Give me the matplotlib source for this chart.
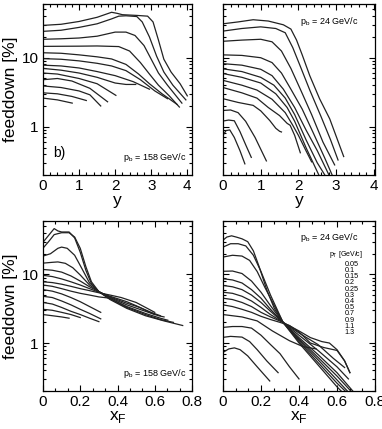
import matplotlib
matplotlib.use("Agg")
import matplotlib.pyplot as plt
from matplotlib.ticker import AutoMinorLocator, FixedLocator, NullFormatter, FuncFormatter, LogLocator

plt.rcParams['font.family'] = ['Liberation Sans', 'DejaVu Sans']

pt_labels = ["0.05", "0.1", "0.15", "0.2", "0.25", "0.3", "0.4", "0.5", "0.7", "0.9", "1.1", "1.3"]

# feeddown vs rapidity y, p_b = 158 GeV/c  (each curve: list of (y, feeddown %))
y_158 = [
    [(0, 29.4), (0.5, 30.5), (1.0, 33.5), (1.5, 38.5), (1.9, 45.5), (2.05, 44), (2.2, 42), (2.6, 41), (2.9, 40),
     (3.05, 33), (3.2, 18), (3.35, 9.5), (3.55, 6.2), (3.8, 4.2), (4.0, 2.8)],
    [(0, 24.1), (0.5, 25), (1.0, 27.5), (1.5, 31), (1.9, 36.5), (2.1, 40), (2.3, 40.5), (2.6, 39.5), (2.75, 33),
     (2.95, 20), (3.15, 10.5), (3.35, 6.2), (3.6, 4.0), (3.96, 2.45)],
    [(0, 18.5), (0.5, 18.8), (1.0, 19.3), (1.5, 20.5), (2.0, 23.5), (2.3, 23.5), (2.55, 21), (2.8, 15), (3.0, 9.5),
     (3.2, 6.0), (3.45, 4.0), (3.85, 2.2)],
    [(0, 14.6), (1.0, 14.7), (1.5, 14.8), (2.1, 14.5), (2.4, 12.5), (2.7, 8.5), (2.95, 5.8), (3.2, 4.0), (3.5, 2.8),
     (3.78, 1.93)],
    [(0, 11.8), (0.5, 11.6), (1.0, 11.0), (1.5, 10.3), (1.9, 9.6), (2.3, 8.0), (2.65, 5.8), (2.95, 4.2), (3.3, 3.0),
     (3.72, 2.1)],
    [(0, 9.7), (0.5, 9.5), (1.0, 9.0), (1.5, 8.3), (1.9, 7.6), (2.3, 6.5), (2.7, 4.8), (3.1, 3.3), (3.45, 2.55)],
    [(0, 7.8), (0.5, 7.6), (1.0, 7.1), (1.5, 6.3), (2.0, 5.5), (2.5, 4.5), (2.95, 3.5)],
    [(0, 7.0), (0.5, 6.6), (1.0, 6.0), (1.5, 5.2), (2.0, 4.3), (2.3, 4.1), (2.57, 4.1)],
    [(0, 6.0), (0.4, 5.8), (1.0, 5.0), (1.5, 4.2), (2.02, 2.85)],
    [(0, 4.8), (0.4, 5.0), (0.8, 4.6), (1.3, 3.6), (1.79, 2.3)],
    [(0, 3.9), (0.5, 3.7), (1.0, 3.3), (1.3, 2.9), (1.6, 2.0)],
    [(0, 3.1), (0.4, 3.0), (0.8, 2.75), (1.2, 2.4)],
    [(0, 2.6), (0.4, 2.45), (0.81, 2.2)],
]

# feeddown vs rapidity y, p_b = 24 GeV/c
y_24 = [
    [(0, 31), (0.4, 33), (0.8, 35.5), (1.2, 34), (1.6, 30), (1.8, 26), (1.95, 18), (2.1, 11), (2.3, 5.5),
     (2.56, 2.55), (2.83, 1.3), (3.2, 0.37)],
    [(0, 24.3), (0.5, 26.5), (1.0, 28), (1.4, 26.5), (1.65, 23), (1.85, 14), (2.05, 7.5), (2.3, 3.4), (2.6, 1.4),
     (2.85, 0.65), (3.05, 0.33)],
    [(0, 17.3), (0.5, 18), (1.0, 18.5), (1.3, 17), (1.55, 12.5), (1.8, 7), (2.05, 3.5), (2.35, 1.5), (2.65, 0.6),
     (2.96, 0.28)],
    [(0, 11), (0.5, 10.8), (1.0, 10), (1.3, 8.5), (1.55, 6), (1.8, 3.5), (2.1, 1.8), (2.4, 0.8), (2.7, 0.35),
     (2.95, 0.17)],
    [(0, 8.2), (0.5, 7.8), (1.0, 6.8), (1.3, 5.5), (1.6, 3.5), (1.9, 1.9), (2.2, 0.9), (2.5, 0.45), (2.85, 0.18)],
    [(0, 6.9), (0.5, 6.3), (1.0, 5.2), (1.35, 4.0), (1.65, 2.6), (1.9, 1.5), (2.2, 0.65), (2.5, 0.3), (2.78, 0.17)],
    [(0, 5.9), (0.5, 5.2), (1.0, 4.3), (1.4, 3.0), (1.7, 1.9), (1.9, 1.2), (2.2, 0.5), (2.58, 0.18)],
    [(0, 4.7), (0.5, 4.0), (0.9, 3.4), (1.3, 2.5), (1.65, 1.6), (1.85, 1.05), (2.0, 0.75), (2.2, 0.45), (2.35, 0.31)],
    [(0, 3.7), (0.5, 3.1), (0.9, 2.6), (1.2, 1.9), (1.5, 1.45), (1.7, 1.12), (1.78, 1.05), (1.9, 0.75), (2.05, 0.42)],
    [(0, 2.55), (0.4, 2.25), (0.8, 2.04), (1.0, 1.7), (1.24, 1.23), (1.4, 0.95), (1.5, 0.86), (1.55, 0.84)],
    [(0, 1.72), (0.2, 1.75), (0.4, 1.6), (0.6, 1.2), (0.85, 0.7), (1.15, 0.32)],
    [(0, 1.21), (0.15, 1.25), (0.3, 1.22), (0.45, 0.85), (0.6, 0.55), (0.75, 0.36)],
    [(0, 0.75), (0.08, 0.88), (0.18, 0.9), (0.3, 0.7), (0.45, 0.45), (0.58, 0.29)],
]

# feeddown vs x_F, p_b = 158 GeV/c
xf_158 = [
    [(0, 29.4), (0.03, 37), (0.06, 46.5), (0.08, 43), (0.1, 41.5), (0.14, 41.5), (0.17, 34), (0.2, 21), (0.23, 11.5),
     (0.26, 7.3), (0.3, 5.6), (0.36, 4.3), (0.45, 3.2), (0.55, 2.5), (0.65, 2.1), (0.75, 1.8)],
    [(0, 24.1), (0.03, 30), (0.06, 38), (0.1, 40.5), (0.14, 40.5), (0.17, 35), (0.2, 24), (0.23, 13), (0.26, 7.8),
     (0.3, 5.6), (0.36, 4.4), (0.45, 3.3), (0.55, 2.6), (0.63, 2.2), (0.7, 2.0)],
    [(0, 18.5), (0.04, 20), (0.08, 24), (0.1, 25), (0.13, 24), (0.17, 19), (0.21, 12), (0.25, 7.5), (0.3, 5.6),
     (0.36, 4.5), (0.45, 3.4), (0.55, 2.7), (0.63, 2.3), (0.67, 2.15)],
    [(0, 14.6), (0.05, 15), (0.08, 15.2), (0.12, 14.5), (0.16, 12.5), (0.2, 9.8), (0.25, 7.0), (0.3, 5.6),
     (0.36, 4.6), (0.45, 3.6), (0.55, 2.9), (0.62, 2.5), (0.65, 2.4)],
    [(0, 11.8), (0.05, 11.5), (0.1, 10.8), (0.15, 9.5), (0.2, 8.0), (0.25, 6.6), (0.3, 5.6), (0.36, 4.7),
     (0.45, 3.8), (0.52, 3.3), (0.58, 2.8), (0.63, 2.5)],
    [(0, 9.7), (0.05, 9.3), (0.1, 8.6), (0.15, 7.8), (0.2, 7.0), (0.25, 6.2), (0.3, 5.5), (0.36, 4.8), (0.45, 4.0),
     (0.5, 3.5), (0.55, 3.0), (0.6, 2.6)],
    [(0, 7.8), (0.05, 7.6), (0.1, 7.2), (0.15, 6.7), (0.2, 6.2), (0.25, 5.8), (0.3, 5.4), (0.36, 5.0), (0.42, 4.6),
     (0.5, 3.9), (0.56, 3.2), (0.6, 2.8)],
    [(0, 7.0), (0.05, 6.7), (0.1, 6.2), (0.15, 5.7), (0.2, 5.3), (0.25, 5.0), (0.3, 4.7), (0.36, 4.5)],
    [(0, 6.0), (0.05, 5.7), (0.1, 5.2), (0.15, 4.6), (0.2, 4.0), (0.25, 3.4), (0.31, 2.8)],
    [(0, 4.8), (0.05, 4.6), (0.1, 4.1), (0.15, 3.6), (0.2, 3.1), (0.25, 2.7), (0.31, 2.25)],
    [(0, 3.9), (0.05, 3.7), (0.1, 3.3), (0.15, 2.9), (0.2, 2.6), (0.25, 2.3), (0.3, 2.05)],
    [(0, 3.1), (0.05, 3.0), (0.1, 2.8), (0.15, 2.6), (0.2, 2.35)],
    [(0, 2.6), (0.05, 2.5), (0.1, 2.4), (0.14, 2.3)],
]

# feeddown vs x_F, p_b = 24 GeV/c
xf_24 = [
    [(0, 31.5), (0.02, 35), (0.045, 36.5), (0.07, 35), (0.1, 33), (0.13, 30), (0.16, 22), (0.19, 13), (0.23, 6),
     (0.27, 3.2), (0.316, 2.0), (0.4, 1.0), (0.5, 0.48), (0.6, 0.23), (0.63, 0.19)],
    [(0, 25), (0.04, 28), (0.08, 28), (0.12, 26), (0.16, 19), (0.2, 11), (0.25, 5), (0.316, 2.0), (0.4, 1.05),
     (0.5, 0.52), (0.6, 0.26), (0.66, 0.18)],
    [(0, 17.9), (0.05, 19), (0.1, 18.5), (0.14, 16), (0.18, 11), (0.22, 6.5), (0.27, 3.5), (0.316, 2.0),
     (0.4, 1.1), (0.5, 0.57), (0.6, 0.29), (0.67, 0.18)],
    [(0, 11.1), (0.05, 11.2), (0.1, 10.3), (0.15, 8), (0.2, 5.5), (0.25, 3.5), (0.316, 2.0), (0.4, 1.15),
     (0.5, 0.62), (0.6, 0.33), (0.68, 0.19)],
    [(0, 8.65), (0.05, 8.3), (0.1, 7.5), (0.15, 6.0), (0.2, 4.5), (0.25, 3.1), (0.316, 2.0), (0.4, 1.2),
     (0.5, 0.68), (0.6, 0.37), (0.69, 0.19)],
    [(0, 6.9), (0.05, 6.6), (0.1, 6.0), (0.15, 5.0), (0.2, 3.9), (0.25, 2.9), (0.316, 2.0), (0.4, 1.3),
     (0.5, 0.78), (0.6, 0.45), (0.66, 0.3)],
    [(0, 5.5), (0.05, 5.3), (0.1, 4.8), (0.15, 4.1), (0.2, 3.3), (0.25, 2.6), (0.316, 2.0), (0.4, 1.4),
     (0.5, 0.95), (0.58, 0.6), (0.64, 0.44)],
    [(0, 4.5), (0.05, 4.3), (0.1, 3.9), (0.15, 3.4), (0.2, 2.8), (0.25, 2.4), (0.316, 2.0), (0.4, 1.5),
     (0.46, 1.2), (0.52, 1.05), (0.56, 1.0), (0.6, 0.8), (0.64, 0.55), (0.668, 0.37)],
    [(0, 3.6), (0.05, 3.4), (0.1, 3.1), (0.15, 2.8), (0.2, 2.45), (0.25, 2.2), (0.3, 2.0), (0.35, 1.8),
     (0.4, 1.45), (0.46, 1.0), (0.53, 0.86), (0.6, 0.78), (0.64, 0.55), (0.668, 0.37)],
    [(0, 2.6), (0.1, 2.4), (0.18, 2.1), (0.26, 1.5), (0.35, 1.08), (0.42, 0.89), (0.49, 0.82)],
    [(0, 1.69), (0.05, 1.74), (0.1, 1.74), (0.15, 1.65), (0.2, 1.3), (0.25, 0.95), (0.3, 0.7), (0.35, 0.45),
     (0.4, 0.3)],
    [(0, 1.21), (0.04, 1.25), (0.1, 1.22), (0.14, 1.05), (0.18, 0.8), (0.23, 0.55), (0.29, 0.37)],
    [(0, 0.73), (0.03, 0.82), (0.06, 0.85), (0.09, 0.8), (0.13, 0.65), (0.18, 0.45), (0.246, 0.28)],
]

W, H = 382, 429
fig = plt.figure(figsize=(W / 100, H / 100), dpi=100)


def box(x0, y0, x1, y1):
    # pixel box (left, top, right, bottom) -> figure fraction
    return [x0 / W, 1 - y1 / H, (x1 - x0) / W, (y1 - y0) / H]


ax_tl = fig.add_axes(box(43, 4, 192, 175))
ax_tr = fig.add_axes(box(223, 4, 375, 175))
ax_bl = fig.add_axes(box(43, 221, 192, 391))
ax_br = fig.add_axes(box(223, 221, 375, 391))

panels = [
    (ax_tl, y_158, (0, 4.13), "y", True),
    (ax_tr, y_24, (0, 4.03), "y", False),
    (ax_bl, xf_158, (0, 0.8), "x$_\\mathregular{F}$", True),
    (ax_br, xf_24, (0, 0.8), "x$_\\mathregular{F}$", False),
]

for ax, curves, xlim, xlab, left in panels:
    for c in curves:
        xs = [p[0] for p in c]
        vs = [p[1] for p in c]
        ax.plot(xs, vs, color="#222222", lw=0.9)
    ax.set_yscale("log")
    ax.set_ylim(0.2, 60)
    ax.set_xlim(*xlim)
    ax.yaxis.set_major_locator(FixedLocator([1, 10]))
    ax.yaxis.set_minor_locator(LogLocator(base=10, subs=range(2, 10)))
    ax.yaxis.set_minor_formatter(NullFormatter())
    if left:
        ax.yaxis.set_major_formatter(FuncFormatter(lambda v, p: "%g" % v))
        ax.set_ylabel("feeddown [%]", fontsize=12.5)
        ax.yaxis.set_label_coords(-0.165, 0.5)
    else:
        ax.yaxis.set_major_formatter(NullFormatter())
    if xlim[1] > 1:
        ax.set_xticks([0, 1, 2, 3, 4])
        ax.xaxis.set_minor_locator(AutoMinorLocator(5))
    else:
        ax.set_xticks([0, 0.2, 0.4, 0.6, 0.8])
        ax.set_xticklabels(["0", "0.2", "0.4", "0.6", "0.8"])
        ax.xaxis.set_minor_locator(AutoMinorLocator(3))
    ax.set_xlabel(xlab, fontsize=12.5, labelpad=0)
    ax.tick_params(which="both", direction="in", top=True, right=True, labelsize=11, width=0.8, pad=3)
    ax.tick_params(which="major", length=4)
    ax.tick_params(which="minor", length=2)
    for s in ax.spines.values():
        s.set_linewidth(0.9)

pb_kw = dict(fontsize=6.5, ha="right", va="center")
ax_tl.text(0.96, 0.10, "p$_\\mathregular{b}$ = 158 GeV/c", transform=ax_tl.transAxes, **pb_kw)
ax_tl.text(0.07, 0.13, "b)", transform=ax_tl.transAxes, fontsize=10, va="center")
ax_tr.text(0.89, 0.895, "p$_\\mathregular{b}$ = 24 GeV/c", transform=ax_tr.transAxes, **pb_kw)
ax_bl.text(0.96, 0.105, "p$_\\mathregular{b}$ = 158 GeV/c", transform=ax_bl.transAxes, **pb_kw)
ax_br.text(0.89, 0.905, "p$_\\mathregular{b}$ = 24 GeV/c", transform=ax_br.transAxes, **pb_kw)

ax_br.text(0.70, 0.805, "p$_\\mathregular{T}$ [GeV/c]", transform=ax_br.transAxes, fontsize=5, va="center")
for i, lab in enumerate(pt_labels):
    ax_br.text(0.80, 0.745 - i * 0.0365, lab, transform=ax_br.transAxes, fontsize=5.2, va="center")

fig.savefig("out.png", dpi=100)
